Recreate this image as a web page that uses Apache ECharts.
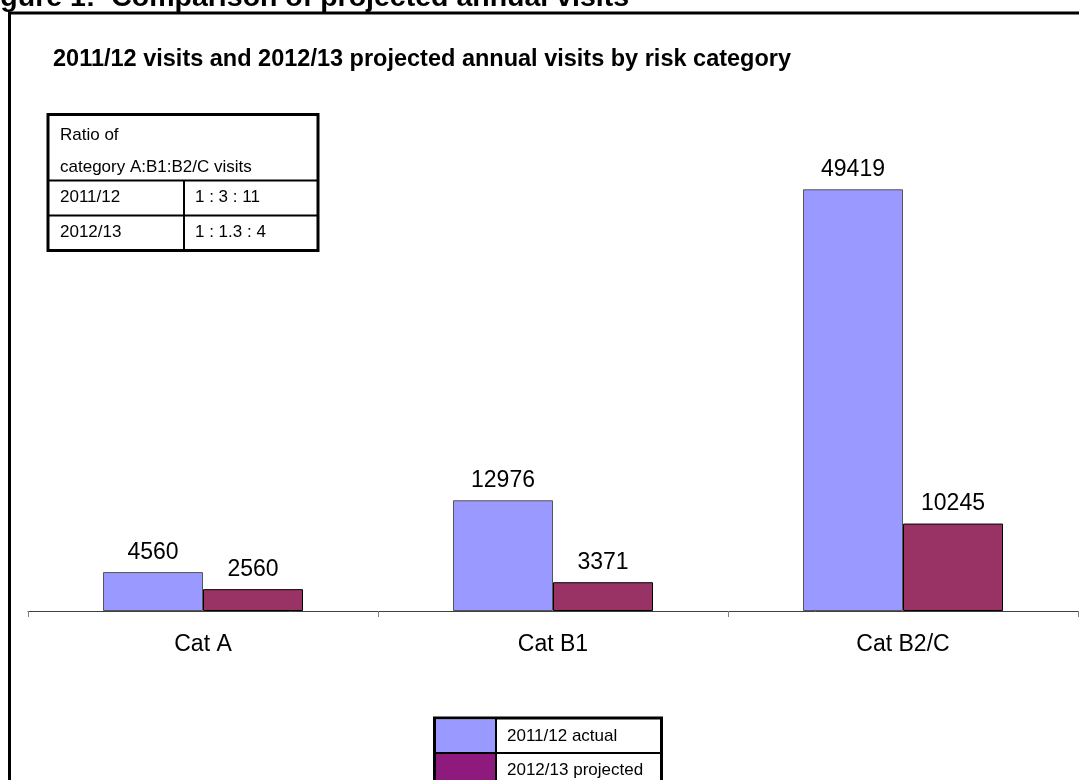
<!DOCTYPE html>
<html>
<head>
<meta charset="utf-8">
<script src="https://cdn.jsdelivr.net/npm/echarts/dist/echarts.min.js"></script>
<style>
  html, body { margin: 0; padding: 0; background: #fff; }
  #chart { width: 1079px; height: 780px; }
</style>
</head>
<body>
<div id="chart"></div>
<script>
// data
var categories = ['Cat A', 'Cat B1', 'Cat B2/C']
var actual = [4560, 12976, 49419] // 2011/12 actual
var projected = [2560, 3371, 10245] // 2012/13 projected
var seriesNames = ['2011/12 actual', '2012/13 projected']
var ratioYears = ['2011/12', '2012/13']
var ratioValues = ['1 : 3 : 11', '1 : 1.3 : 4']

var FONT = '"Liberation Sans", Arial, sans-serif'
var blue = '#9999ff'
var maroon = '#993366'
var legendPurple = '#8e1a7e'

var chart = echarts.init(document.getElementById('chart'))

var graphics = [
  // page title, cut at the top like the source
  {
    type: 'text',
    style: {
      text: 'Figure 1:  Comparison of projected annual visits',
      x: -25, y: -2,
      font: 'bold 28.5px ' + FONT,
      fill: '#000',
      textVerticalAlign: 'middle'
    }
  },
  // outer frame (left + top)
  { type: 'line', shape: { x1: 9.5, y1: 12, x2: 9.5, y2: 790 }, style: { stroke: '#000', lineWidth: 3 } },
  { type: 'line', shape: { x1: 8, y1: 13, x2: 1090, y2: 13 }, style: { stroke: '#000', lineWidth: 3 } },
  // chart subtitle
  {
    type: 'text',
    style: {
      text: '2011/12 visits and 2012/13 projected annual visits by risk category',
      x: 53, y: 60,
      font: 'bold 23.5px ' + FONT,
      fill: '#000',
      textVerticalAlign: 'middle'
    }
  },
  // ratio table
  { type: 'rect', shape: { x: 48, y: 114.5, width: 270, height: 136 }, style: { fill: '#fff', stroke: '#000', lineWidth: 3 }, z: 10 },
  { type: 'line', shape: { x1: 48, y1: 180.5, x2: 318, y2: 180.5 }, style: { stroke: '#000', lineWidth: 2 }, z: 11 },
  { type: 'line', shape: { x1: 48, y1: 215.5, x2: 318, y2: 215.5 }, style: { stroke: '#000', lineWidth: 2 }, z: 11 },
  { type: 'line', shape: { x1: 184, y1: 180.5, x2: 184, y2: 250 }, style: { stroke: '#000', lineWidth: 2 }, z: 11 },
  { type: 'text', style: { text: 'Ratio of', x: 60, y: 135, font: '17px ' + FONT, fill: '#000', textVerticalAlign: 'middle' }, z: 12 },
  { type: 'text', style: { text: 'category A:B1:B2/C visits', x: 60, y: 167, font: '17px ' + FONT, fill: '#000', textVerticalAlign: 'middle' }, z: 12 }
]

ratioYears.forEach(function (yr, i) {
  var yy = 197 + i * 35
  graphics.push({ type: 'text', style: { text: yr, x: 60, y: yy, font: '17px ' + FONT, fill: '#000', textVerticalAlign: 'middle' }, z: 12 })
  graphics.push({ type: 'text', style: { text: ratioValues[i], x: 195, y: yy, font: '17px ' + FONT, fill: '#000', textVerticalAlign: 'middle' }, z: 12 })
})

// legend box at the bottom
graphics.push({ type: 'rect', shape: { x: 434.5, y: 718, width: 227, height: 80 }, style: { fill: '#fff', stroke: '#000', lineWidth: 3 }, z: 10 })
graphics.push({ type: 'rect', shape: { x: 436, y: 719.5, width: 59, height: 33 }, style: { fill: blue }, z: 11 })
graphics.push({ type: 'rect', shape: { x: 436, y: 754, width: 59, height: 40 }, style: { fill: legendPurple }, z: 11 })
graphics.push({ type: 'line', shape: { x1: 434, y1: 753, x2: 661, y2: 753 }, style: { stroke: '#000', lineWidth: 2 }, z: 12 })
graphics.push({ type: 'line', shape: { x1: 496, y1: 718, x2: 496, y2: 790 }, style: { stroke: '#000', lineWidth: 2 }, z: 12 })
seriesNames.forEach(function (nm, i) {
  graphics.push({ type: 'text', style: { text: nm, x: 507, y: 736 + i * 34, font: '17px ' + FONT, fill: '#000', textVerticalAlign: 'middle' }, z: 12 })
})

var labelStyle = {
  show: true,
  position: 'top',
  distance: 8,
  color: '#000',
  fontSize: 23,
  fontFamily: FONT
}

chart.setOption({
  animation: false,
  backgroundColor: '#fff',
  grid: { left: 28, right: 1, top: 99, bottom: 169 },
  xAxis: {
    type: 'category',
    data: categories,
    axisLine: { lineStyle: { color: '#404040', width: 1 } },
    axisTick: { show: true, length: 6, lineStyle: { color: '#808080' } },
    axisLabel: { color: '#000', fontSize: 23, fontFamily: FONT, margin: 22 }
  },
  yAxis: {
    type: 'value',
    min: 0,
    max: 60000,
    show: false,
    splitLine: { show: false }
  },
  series: [
    {
      name: seriesNames[0],
      type: 'bar',
      data: actual,
      barWidth: 100,
      barGap: 0,
      itemStyle: { color: blue, borderColor: '#555', borderWidth: 1 },
      label: labelStyle
    },
    {
      name: seriesNames[1],
      type: 'bar',
      data: projected,
      barWidth: 100,
      itemStyle: { color: maroon, borderColor: '#000', borderWidth: 1 },
      label: labelStyle
    }
  ],
  graphic: graphics
})
</script>
</body>
</html>
